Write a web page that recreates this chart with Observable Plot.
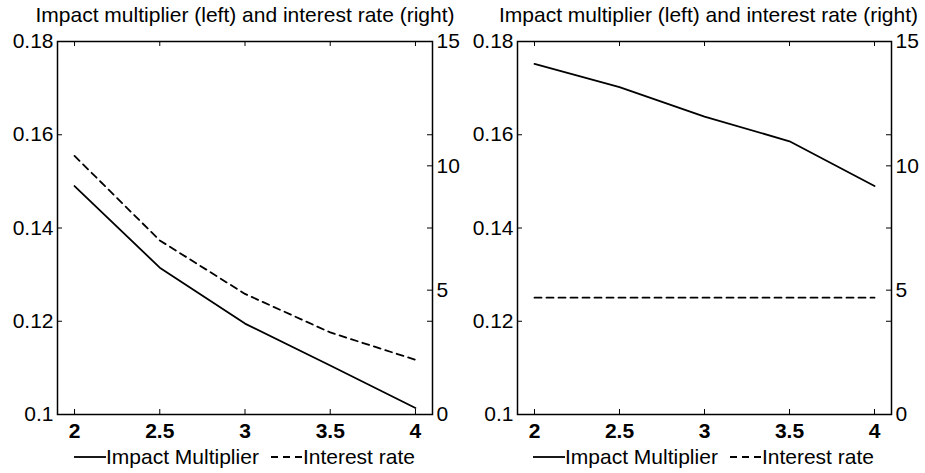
<!DOCTYPE html>
<html>
<head>
<meta charset="utf-8">
<script src="https://cdn.jsdelivr.net/npm/d3@7"></script>
<script src="https://cdn.jsdelivr.net/npm/@observablehq/plot@0.6"></script>
<style>
  body { margin: 0; background: #fff; }
  #chart { position: relative; width: 925px; height: 473px; font-family: "Liberation Sans", Arial, sans-serif; color: #000; }
  .panel { position: absolute; top: 0; }
  .legend { position: absolute; top: 446px; height: 22px; font-size: 21px; display: flex; align-items: center; white-space: nowrap; line-height: 22px; }
  .legend svg { display: block; }
</style>
</head>
<body>
<div id="chart"></div>
<script>
// Shared grid of the parameter on the horizontal axis
const tau = [2, 2.5, 3, 3.5, 4];

// Left panel: impact multiplier (left axis) and interest rate (right axis)
const multiplierA = [0.149, 0.1315, 0.1195, 0.1105, 0.1014];
const rateA = [10.4, 7.0, 4.85, 3.3, 2.2];

// Right panel: impact multiplier and a constant interest rate
const multiplierB = [0.1752, 0.1702, 0.1639, 0.1586, 0.149];
const rateB = [4.7, 4.7, 4.7, 4.7, 4.7];

const xTicks = [2, 2.5, 3, 3.5, 4];
const leftTicks = [0.1, 0.12, 0.14, 0.16, 0.18];
const rightTicks = [0, 5, 10, 15];

const titleText = "Impact multiplier (left) and interest rate (right)";
const legendLabels = ["Impact Multiplier", "Interest rate"];

const FONT = '"Liberation Sans", Arial, sans-serif';
const leftDomain = [0.1, 0.18];
const rightDomain = [0, 15];
const dash = "7,5";

// Map an interest-rate value onto the left (multiplier) scale
const toLeft = r => +(leftDomain[0] + (r - rightDomain[0]) / (rightDomain[1] - rightDomain[0]) * (leftDomain[1] - leftDomain[0])).toFixed(8);
const fromLeft = v => Math.round((v - leftDomain[0]) / (leftDomain[1] - leftDomain[0]) * (rightDomain[1] - rightDomain[0]) + rightDomain[0]);

function panel(mult, rate, width, marginRight, titleShift) {
  const H = 473, mt = 41, mb = 59, ml = 57;
  const fw = width - ml - marginRight, fh = H - mt - mb;
  const rows = tau.map((t, i) => ({t, m: mult[i], r: toLeft(rate[i])}));
  const tick = 5;
  return Plot.plot({
    width, height: H,
    marginTop: mt, marginBottom: mb, marginLeft: ml, marginRight,
    style: {fontFamily: FONT, fontSize: "21px", color: "#000", background: "none", overflow: "visible"},
    x: {domain: [1.9, 4.1], label: null},
    y: {domain: leftDomain, label: null},
    marks: [
      // inward tick marks on all four sides
      Plot.tickY(leftTicks, {y: d => d, insetRight: fw - tick, stroke: "#000"}),
      Plot.tickY(leftTicks, {y: d => d, insetLeft: fw - tick, stroke: "#000"}),
      Plot.tickY(rightTicks.map(toLeft), {y: d => d, insetLeft: fw - tick, stroke: "#000"}),
      Plot.tickX(xTicks, {x: d => d, insetTop: fh - tick, stroke: "#000"}),
      Plot.tickX(xTicks, {x: d => d, insetBottom: fh - tick, stroke: "#000"}),
      Plot.frame({stroke: "#000", strokeWidth: 1.5}),
      Plot.axisY({ticks: leftTicks, anchor: "left", tickSize: 0, tickPadding: 4, label: null,
        tickFormat: d => String(+d.toFixed(2))}),
      Plot.axisY({ticks: rightTicks.map(toLeft), anchor: "right", tickSize: 0, tickPadding: 4, label: null,
        tickFormat: fromLeft}),
      Plot.axisX({ticks: xTicks, anchor: "bottom", tickSize: 0, tickPadding: 9, label: null,
        fontWeight: "bold", tickFormat: d => String(d)}),
      Plot.line(rows, {x: "t", y: "m", stroke: "#000", strokeWidth: 1.8}),
      Plot.line(rows, {x: "t", y: "r", stroke: "#000", strokeWidth: 1.8, strokeDasharray: dash}),
      Plot.text([titleText], {frameAnchor: "top", lineAnchor: "middle", dy: -26, dx: titleShift, text: d => d, fill: "#000"})
    ]
  });
}

function legend(left) {
  const div = document.createElement("div");
  div.className = "legend";
  div.style.left = left + "px";
  const swatch = (dashed) => {
    const ns = "http://www.w3.org/2000/svg";
    const s = document.createElementNS(ns, "svg");
    s.setAttribute("width", 32); s.setAttribute("height", 10);
    const l = document.createElementNS(ns, "line");
    l.setAttribute("x1", 0); l.setAttribute("x2", 32);
    l.setAttribute("y1", 5); l.setAttribute("y2", 5);
    l.setAttribute("stroke", "#000"); l.setAttribute("stroke-width", 1.8);
    if (dashed) l.setAttribute("stroke-dasharray", dash);
    s.appendChild(l);
    return s;
  };
  const label = (t, gapRight) => {
    const sp = document.createElement("span");
    sp.textContent = t;
    sp.style.marginRight = gapRight + "px";
    return sp;
  };
  div.appendChild(swatch(false));
  div.appendChild(label(legendLabels[0], 12));
  div.appendChild(swatch(true));
  div.appendChild(label(legendLabels[1], 0));
  return div;
}

const chart = document.getElementById("chart");
const p1 = panel(multiplierA, rateA, 462, 30, 0);
p1.classList.add("panel"); p1.style.left = "0px";
const p2 = panel(multiplierB, rateB, 465, 34, 4);
p2.classList.add("panel"); p2.style.left = "460px";
chart.appendChild(p1);
chart.appendChild(p2);
chart.appendChild(legend(74));
chart.appendChild(legend(533));
</script>
</body>
</html>
